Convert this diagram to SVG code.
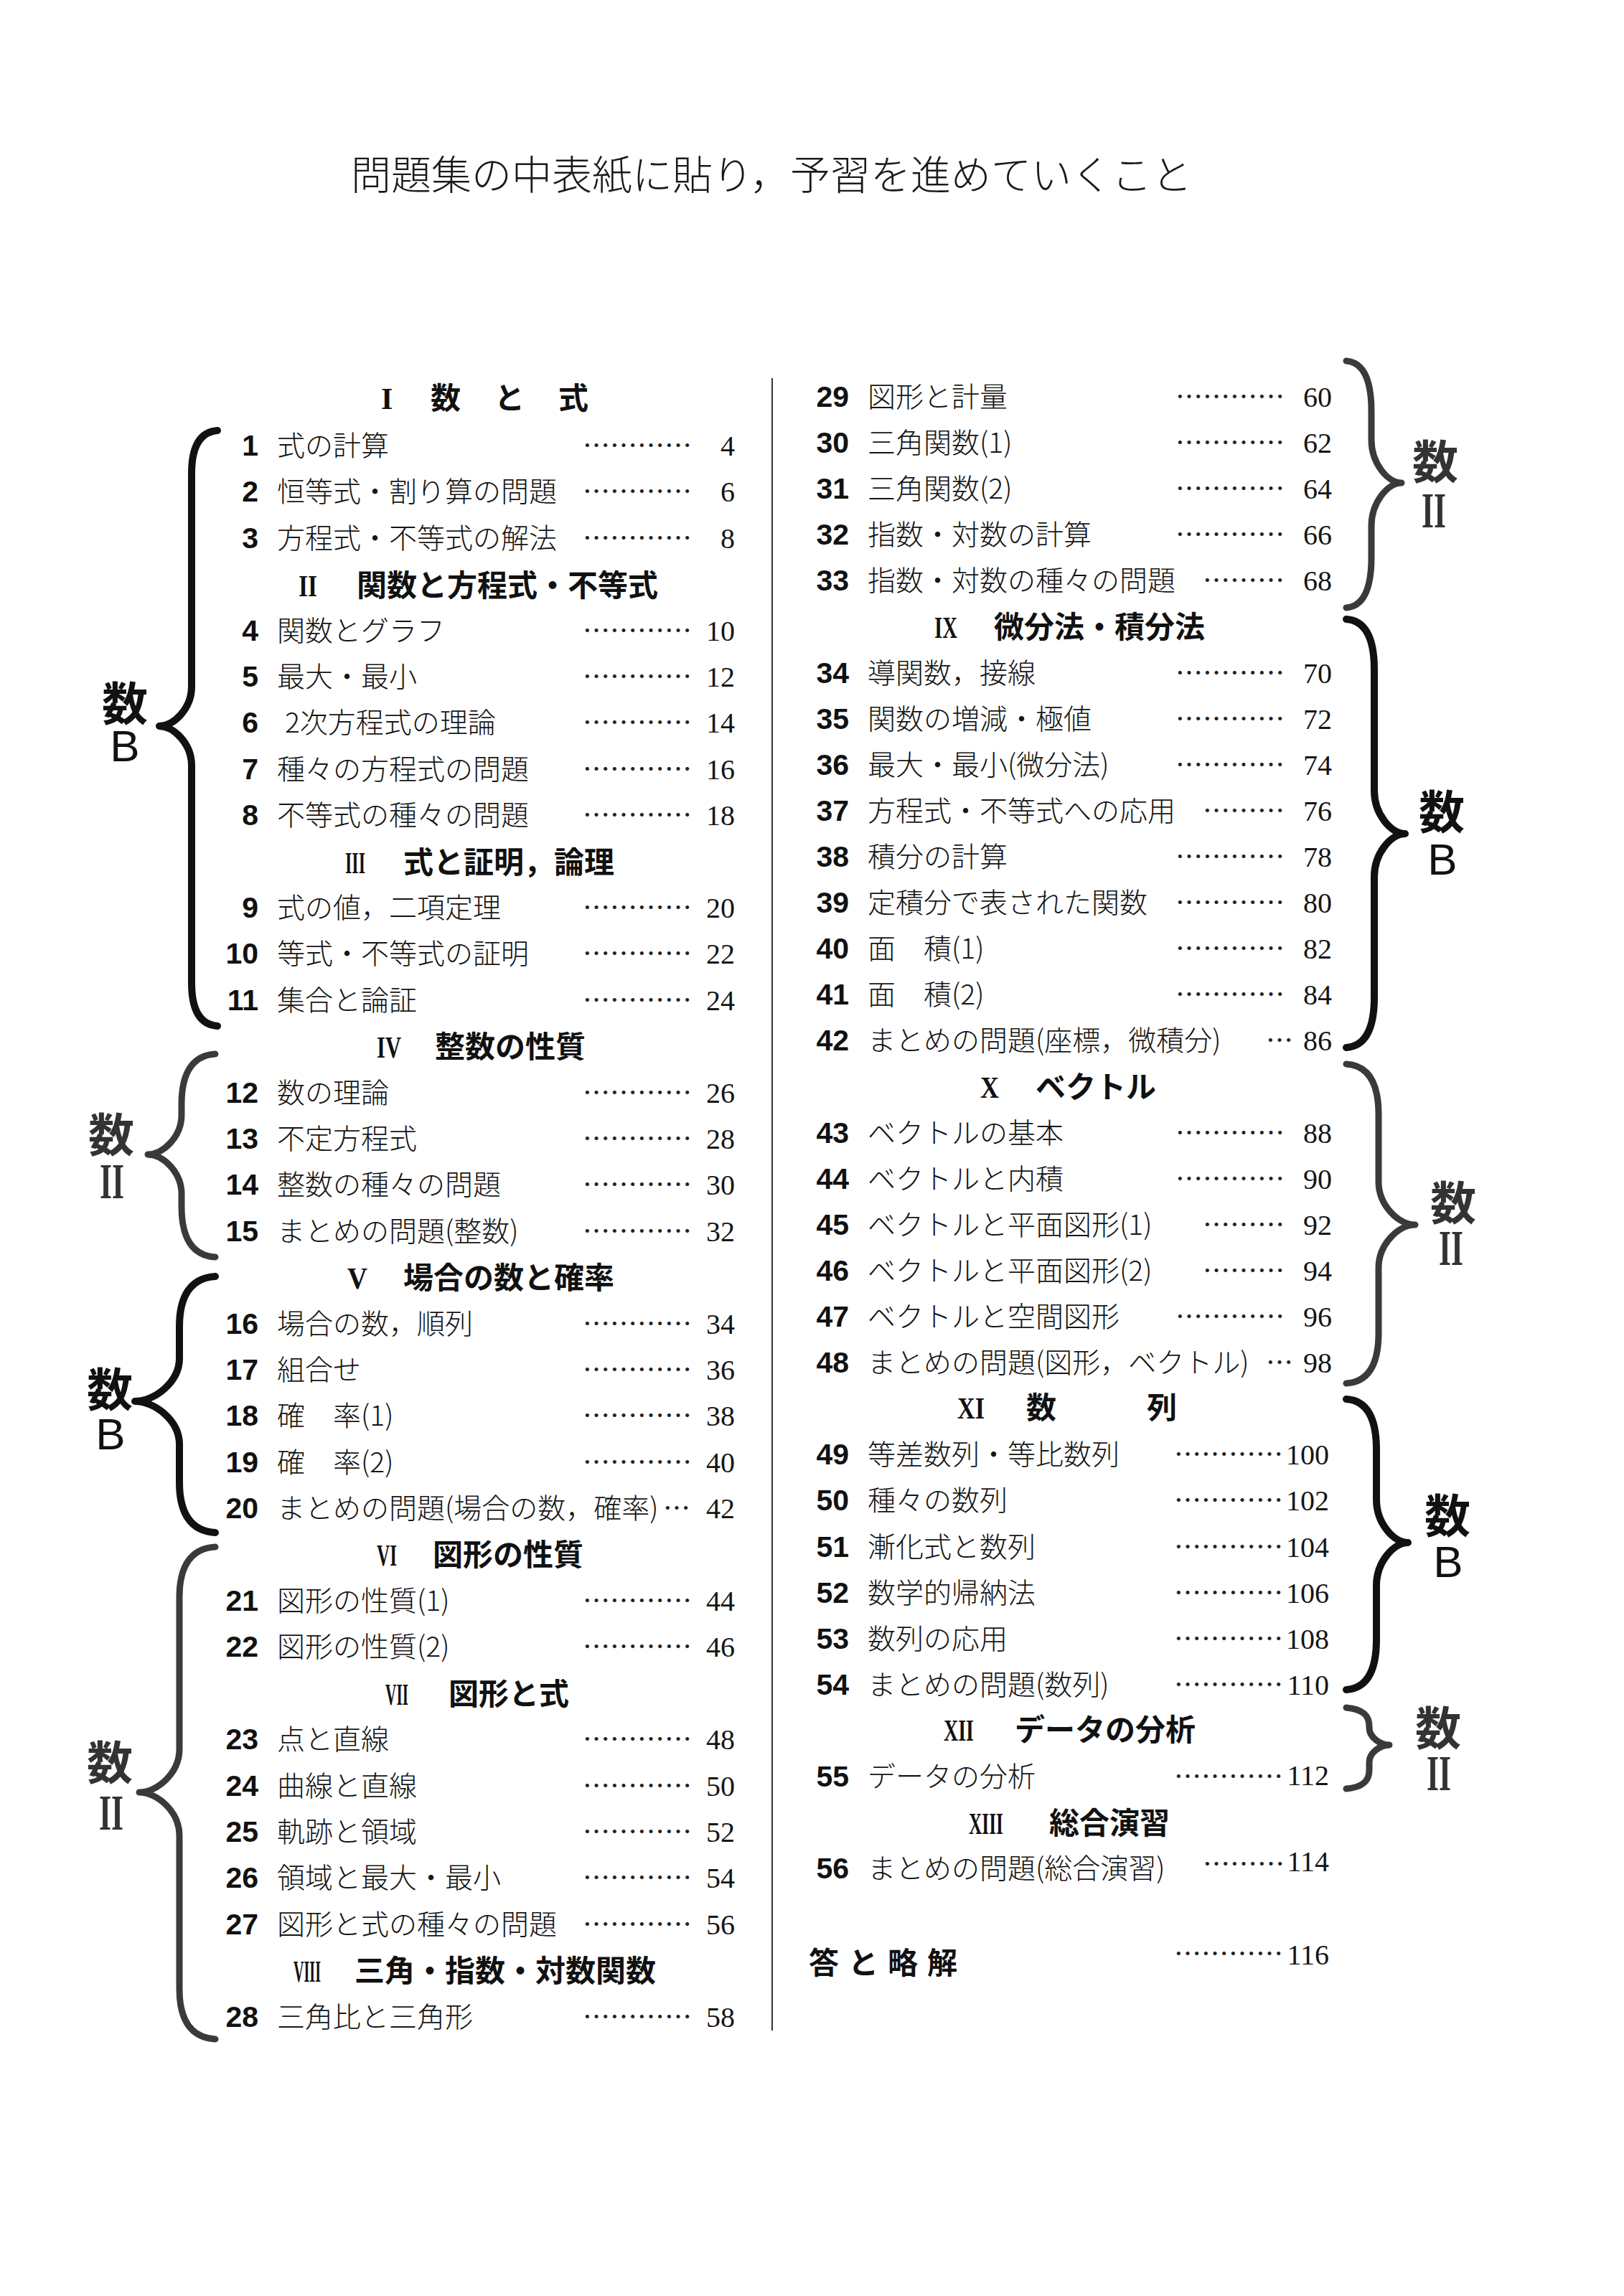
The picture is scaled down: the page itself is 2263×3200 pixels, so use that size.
<svg xmlns="http://www.w3.org/2000/svg" width="2263" height="3200" viewBox="0 0 2263 3200">
<style>
.t{font-family:"Noto Sans CJK JP","Noto Sans CJK SC",sans-serif;font-size:39px;font-weight:300;fill:#151515}
.n{font-family:"Liberation Sans",Arial,sans-serif;font-size:41px;font-weight:bold;fill:#111;text-anchor:end}
.p{font-family:"Liberation Serif","Times New Roman",serif;font-size:40px;fill:#151515;text-anchor:end}
.d{font-family:"Noto Sans CJK JP",sans-serif;font-size:38px;fill:#222}
.h{font-family:"Noto Sans CJK JP","Noto Sans CJK SC",sans-serif;font-size:42px;font-weight:bold;fill:#111}
.r{font-family:"Liberation Serif","Times New Roman",serif;font-size:42px;font-weight:bold;fill:#111}
.lab{text-anchor:middle}
.lk{font-family:"Noto Sans CJK JP",sans-serif;font-size:64px;font-weight:bold}
.lb{font-family:"Liberation Sans",Arial,sans-serif;font-size:62px;font-weight:normal}
.li{font-family:"Liberation Serif","Times New Roman",serif;font-size:70px;font-weight:bold}
.blk{fill:#111}
.gry{fill:#333}
.bb{fill:none;stroke:#111;stroke-width:10;stroke-linecap:round;stroke-linejoin:round}
.bg{fill:none;stroke:#3a3a3a;stroke-width:9;stroke-linecap:round;stroke-linejoin:round}
.title{font-family:"Noto Sans CJK JP",sans-serif;font-size:56px;font-weight:300;fill:#1a1a1a}
</style>
<rect width="2263" height="3200" fill="#ffffff"/>
<text class="title" x="489" y="264">問題集の中表紙に貼り，予習を進めていくこと</text>
<line x1="1076" y1="527" x2="1076" y2="2830" stroke="#333" stroke-width="2"/>

<g id="braces">
<path class="bb" d="M303,600 C277.8,602 267,624 267,660 L267,957 C267,987.25 242.25,1012 222,1012 C242.25,1012 267,1036.75 267,1067 L267,1370 C267,1406 277.8,1428 303,1430"/>
<path class="bg" d="M300,1469 C267.1,1471 253,1497 253,1539 L253,1554 C253,1584.25 227.15,1609 206,1609 C227.15,1609 253,1633.75 253,1664 L253,1682 C253,1724 267.1,1750 300,1752"/>
<path class="bb" d="M300,1779 C265,1781 250,1807 250,1849 L250,1893 C250,1926 215.9,1953 188,1953 C215.9,1953 250,1980 250,2013 L250,2066 C250,2108 265,2134 300,2136"/>
<path class="bg" d="M300,2156 C265,2158 250,2184 250,2226 L250,2438 C250,2471 219.2,2498 194,2498 C219.2,2498 250,2525 250,2558 L250,2772 C250,2814 265,2840 300,2842"/>
<path class="bg" d="M1876,503 C1900.5,505 1911,531 1911,573 L1911,613 C1911,646 1934.1,673 1953,673 C1934.1,673 1911,700 1911,733 L1911,777 C1911,819 1900.5,845 1876,847"/>
<path class="bb" d="M1876,863 C1903.3,865 1915,891 1915,933 L1915,1102 C1915,1135 1938.65,1162 1958,1162 C1938.65,1162 1915,1189 1915,1222 L1915,1390 C1915,1432 1903.3,1458 1876,1460"/>
<path class="bg" d="M1876,1483 C1907.5,1485 1921,1511 1921,1553 L1921,1647 C1921,1680 1949.05,1707 1972,1707 C1949.05,1707 1921,1734 1921,1767 L1921,1858 C1921,1900 1907.5,1926 1876,1928"/>
<path class="bb" d="M1876,1950 C1905.4,1952 1918,1978 1918,2020 L1918,2090 C1918,2123 1942.2,2150 1962,2150 C1942.2,2150 1918,2177 1918,2210 L1918,2285 C1918,2327 1905.4,2353 1876,2355"/>
<path class="bg" d="M1876,2380 C1898.4,2382 1908,2390.4 1908,2406 L1908,2408 C1908,2421.2 1923.4,2432 1936,2432 C1923.4,2432 1908,2442.8 1908,2456 L1908,2467 C1908,2482.6 1898.4,2491 1876,2493"/>
</g>

<g id="labels">
<text class="lab blk"><tspan class="lk" x="174" y="1004">数</tspan><tspan class="lb" x="174" y="1061">B</tspan></text>
<text class="lab gry"><tspan class="lk" x="155" y="1605">数</tspan><tspan class="li" x="156" y="1670" textLength="34" lengthAdjust="spacingAndGlyphs">II</tspan></text>
<text class="lab blk"><tspan class="lk" x="153" y="1960">数</tspan><tspan class="lb" x="154" y="2020">B</tspan></text>
<text class="lab gry"><tspan class="lk" x="153" y="2480">数</tspan><tspan class="li" x="155" y="2550" textLength="34" lengthAdjust="spacingAndGlyphs">II</tspan></text>
<text class="lab gry"><tspan class="lk" x="2000" y="667">数</tspan><tspan class="li" x="1998" y="735" textLength="34" lengthAdjust="spacingAndGlyphs">II</tspan></text>
<text class="lab blk"><tspan class="lk" x="2009" y="1155">数</tspan><tspan class="lb" x="2010" y="1219">B</tspan></text>
<text class="lab gry"><tspan class="lk" x="2025" y="1700">数</tspan><tspan class="li" x="2022" y="1763" textLength="34" lengthAdjust="spacingAndGlyphs">II</tspan></text>
<text class="lab blk"><tspan class="lk" x="2017" y="2136">数</tspan><tspan class="lb" x="2018" y="2198">B</tspan></text>
<text class="lab gry"><tspan class="lk" x="2004" y="2432">数</tspan><tspan class="li" x="2005" y="2495" textLength="34" lengthAdjust="spacingAndGlyphs">II</tspan></text>
</g>

<g id="left-column">
<g id="h1"><text class="r" x="531" y="570">I</text><text class="h" x="600" y="570" letter-spacing="2.5">数　と　式</text></g>
<g id="r1"><text class="n" x="360" y="635">1</text><text class="t" x="386" y="635">式の計算</text><text class="d" x="812" y="635">…………</text><text class="p" x="1024" y="635">4</text></g>
<g id="r2"><text class="n" x="360" y="699">2</text><text class="t" x="386" y="699">恒等式・割り算の問題</text><text class="d" x="812" y="699">…………</text><text class="p" x="1024" y="699">6</text></g>
<g id="r3"><text class="n" x="360" y="764">3</text><text class="t" x="386" y="764">方程式・不等式の解法</text><text class="d" x="812" y="764">…………</text><text class="p" x="1024" y="764">8</text></g>
<g id="h2"><text class="r" x="416" y="831" textLength="26" lengthAdjust="spacingAndGlyphs">II</text><text class="h" x="497" y="831">関数と方程式・不等式</text></g>
<g id="r4"><text class="n" x="360" y="893">4</text><text class="t" x="386" y="893">関数とグラフ</text><text class="d" x="812" y="893">…………</text><text class="p" x="1024" y="893">10</text></g>
<g id="r5"><text class="n" x="360" y="957">5</text><text class="t" x="386" y="957">最大・最小</text><text class="d" x="812" y="957">…………</text><text class="p" x="1024" y="957">12</text></g>
<g id="r6"><text class="n" x="360" y="1021">6</text><text class="t" x="397" y="1021">2次方程式の理論</text><text class="d" x="812" y="1021">…………</text><text class="p" x="1024" y="1021">14</text></g>
<g id="r7"><text class="n" x="360" y="1086">7</text><text class="t" x="386" y="1086">種々の方程式の問題</text><text class="d" x="812" y="1086">…………</text><text class="p" x="1024" y="1086">16</text></g>
<g id="r8"><text class="n" x="360" y="1150">8</text><text class="t" x="386" y="1150">不等式の種々の問題</text><text class="d" x="812" y="1150">…………</text><text class="p" x="1024" y="1150">18</text></g>
<g id="h3"><text class="r" x="481" y="1217" textLength="28" lengthAdjust="spacingAndGlyphs">III</text><text class="h" x="562" y="1217">式と証明，論理</text></g>
<g id="r9"><text class="n" x="360" y="1279">9</text><text class="t" x="386" y="1279">式の値，二項定理</text><text class="d" x="812" y="1279">…………</text><text class="p" x="1024" y="1279">20</text></g>
<g id="r10"><text class="n" x="360" y="1343">10</text><text class="t" x="386" y="1343">等式・不等式の証明</text><text class="d" x="812" y="1343">…………</text><text class="p" x="1024" y="1343">22</text></g>
<g id="r11"><text class="n" x="360" y="1408">11</text><text class="t" x="386" y="1408">集合と論証</text><text class="d" x="812" y="1408">…………</text><text class="p" x="1024" y="1408">24</text></g>
<g id="h4"><text class="r" x="525" y="1474" textLength="34" lengthAdjust="spacingAndGlyphs">IV</text><text class="h" x="606" y="1474">整数の性質</text></g>
<g id="r12"><text class="n" x="360" y="1537">12</text><text class="t" x="386" y="1537">数の理論</text><text class="d" x="812" y="1537">…………</text><text class="p" x="1024" y="1537">26</text></g>
<g id="r13"><text class="n" x="360" y="1601">13</text><text class="t" x="386" y="1601">不定方程式</text><text class="d" x="812" y="1601">…………</text><text class="p" x="1024" y="1601">28</text></g>
<g id="r14"><text class="n" x="360" y="1665">14</text><text class="t" x="386" y="1665">整数の種々の問題</text><text class="d" x="812" y="1665">…………</text><text class="p" x="1024" y="1665">30</text></g>
<g id="r15"><text class="n" x="360" y="1730">15</text><text class="t" x="386" y="1730">まとめの問題(整数)</text><text class="d" x="812" y="1730">…………</text><text class="p" x="1024" y="1730">32</text></g>
<g id="h5"><text class="r" x="484" y="1796" textLength="28" lengthAdjust="spacingAndGlyphs">V</text><text class="h" x="562" y="1796">場合の数と確率</text></g>
<g id="r16"><text class="n" x="360" y="1859">16</text><text class="t" x="386" y="1859">場合の数，順列</text><text class="d" x="812" y="1859">…………</text><text class="p" x="1024" y="1859">34</text></g>
<g id="r17"><text class="n" x="360" y="1923">17</text><text class="t" x="386" y="1923">組合せ</text><text class="d" x="812" y="1923">…………</text><text class="p" x="1024" y="1923">36</text></g>
<g id="r18"><text class="n" x="360" y="1987">18</text><text class="t" x="386" y="1987">確　率(1)</text><text class="d" x="812" y="1987">…………</text><text class="p" x="1024" y="1987">38</text></g>
<g id="r19"><text class="n" x="360" y="2052">19</text><text class="t" x="386" y="2052">確　率(2)</text><text class="d" x="812" y="2052">…………</text><text class="p" x="1024" y="2052">40</text></g>
<g id="r20"><text class="n" x="360" y="2116">20</text><text class="t" x="386" y="2116">まとめの問題(場合の数，確率)</text><text class="d" x="924" y="2116" font-size="34">…</text><text class="p" x="1024" y="2116">42</text></g>
<g id="h6"><text class="r" x="525" y="2182" textLength="28" lengthAdjust="spacingAndGlyphs">VI</text><text class="h" x="603" y="2182">図形の性質</text></g>
<g id="r21"><text class="n" x="360" y="2245">21</text><text class="t" x="386" y="2245">図形の性質(1)</text><text class="d" x="812" y="2245">…………</text><text class="p" x="1024" y="2245">44</text></g>
<g id="r22"><text class="n" x="360" y="2309">22</text><text class="t" x="386" y="2309">図形の性質(2)</text><text class="d" x="812" y="2309">…………</text><text class="p" x="1024" y="2309">46</text></g>
<g id="h7"><text class="r" x="537" y="2376" textLength="32" lengthAdjust="spacingAndGlyphs">VII</text><text class="h" x="625" y="2376">図形と式</text></g>
<g id="r23"><text class="n" x="360" y="2438">23</text><text class="t" x="386" y="2438">点と直線</text><text class="d" x="812" y="2438">…………</text><text class="p" x="1024" y="2438">48</text></g>
<g id="r24"><text class="n" x="360" y="2503">24</text><text class="t" x="386" y="2503">曲線と直線</text><text class="d" x="812" y="2503">…………</text><text class="p" x="1024" y="2503">50</text></g>
<g id="r25"><text class="n" x="360" y="2567">25</text><text class="t" x="386" y="2567">軌跡と領域</text><text class="d" x="812" y="2567">…………</text><text class="p" x="1024" y="2567">52</text></g>
<g id="r26"><text class="n" x="360" y="2631">26</text><text class="t" x="386" y="2631">領域と最大・最小</text><text class="d" x="812" y="2631">…………</text><text class="p" x="1024" y="2631">54</text></g>
<g id="r27"><text class="n" x="360" y="2696">27</text><text class="t" x="386" y="2696">図形と式の種々の問題</text><text class="d" x="812" y="2696">…………</text><text class="p" x="1024" y="2696">56</text></g>
<g id="h8"><text class="r" x="409" y="2762" textLength="38" lengthAdjust="spacingAndGlyphs">VIII</text><text class="h" x="494" y="2762">三角・指数・対数関数</text></g>
<g id="r28"><text class="n" x="360" y="2825">28</text><text class="t" x="386" y="2825">三角比と三角形</text><text class="d" x="812" y="2825">…………</text><text class="p" x="1024" y="2825">58</text></g>
</g>

<g id="right-column">
<g id="r29"><text class="n" x="1183" y="567">29</text><text class="t" x="1209" y="567">図形と計量</text><text class="d" x="1638" y="567">…………</text><text class="p" x="1856" y="567">60</text></g>
<g id="r30"><text class="n" x="1183" y="631">30</text><text class="t" x="1209" y="631">三角関数(1)</text><text class="d" x="1638" y="631">…………</text><text class="p" x="1856" y="631">62</text></g>
<g id="r31"><text class="n" x="1183" y="695">31</text><text class="t" x="1209" y="695">三角関数(2)</text><text class="d" x="1638" y="695">…………</text><text class="p" x="1856" y="695">64</text></g>
<g id="r32"><text class="n" x="1183" y="759">32</text><text class="t" x="1209" y="759">指数・対数の計算</text><text class="d" x="1638" y="759">…………</text><text class="p" x="1856" y="759">66</text></g>
<g id="r33"><text class="n" x="1183" y="823">33</text><text class="t" x="1209" y="823">指数・対数の種々の問題</text><text class="d" x="1676" y="823">………</text><text class="p" x="1856" y="823">68</text></g>
<g id="h9"><text class="r" x="1302" y="889" textLength="32" lengthAdjust="spacingAndGlyphs">IX</text><text class="h" x="1385" y="889">微分法・積分法</text></g>
<g id="r34"><text class="n" x="1183" y="952">34</text><text class="t" x="1209" y="952">導関数，接線</text><text class="d" x="1638" y="952">…………</text><text class="p" x="1856" y="952">70</text></g>
<g id="r35"><text class="n" x="1183" y="1016">35</text><text class="t" x="1209" y="1016">関数の増減・極値</text><text class="d" x="1638" y="1016">…………</text><text class="p" x="1856" y="1016">72</text></g>
<g id="r36"><text class="n" x="1183" y="1080">36</text><text class="t" x="1209" y="1080">最大・最小(微分法)</text><text class="d" x="1638" y="1080">…………</text><text class="p" x="1856" y="1080">74</text></g>
<g id="r37"><text class="n" x="1183" y="1144">37</text><text class="t" x="1209" y="1144">方程式・不等式への応用</text><text class="d" x="1676" y="1144">………</text><text class="p" x="1856" y="1144">76</text></g>
<g id="r38"><text class="n" x="1183" y="1208">38</text><text class="t" x="1209" y="1208">積分の計算</text><text class="d" x="1638" y="1208">…………</text><text class="p" x="1856" y="1208">78</text></g>
<g id="r39"><text class="n" x="1183" y="1272">39</text><text class="t" x="1209" y="1272">定積分で表された関数</text><text class="d" x="1638" y="1272">…………</text><text class="p" x="1856" y="1272">80</text></g>
<g id="r40"><text class="n" x="1183" y="1336">40</text><text class="t" x="1209" y="1336">面　積(1)</text><text class="d" x="1638" y="1336">…………</text><text class="p" x="1856" y="1336">82</text></g>
<g id="r41"><text class="n" x="1183" y="1400">41</text><text class="t" x="1209" y="1400">面　積(2)</text><text class="d" x="1638" y="1400">…………</text><text class="p" x="1856" y="1400">84</text></g>
<g id="r42"><text class="n" x="1183" y="1464">42</text><text class="t" x="1209" y="1464">まとめの問題(座標，微積分)</text><text class="d" x="1764" y="1464" font-size="28">…</text><text class="p" x="1856" y="1464">86</text></g>
<g id="h10"><text class="r" x="1366" y="1530" textLength="26" lengthAdjust="spacingAndGlyphs">X</text><text class="h" x="1443" y="1530">ベクトル</text></g>
<g id="r43"><text class="n" x="1183" y="1593">43</text><text class="t" x="1209" y="1593">ベクトルの基本</text><text class="d" x="1638" y="1593">…………</text><text class="p" x="1856" y="1593">88</text></g>
<g id="r44"><text class="n" x="1183" y="1657">44</text><text class="t" x="1209" y="1657">ベクトルと内積</text><text class="d" x="1638" y="1657">…………</text><text class="p" x="1856" y="1657">90</text></g>
<g id="r45"><text class="n" x="1183" y="1721">45</text><text class="t" x="1209" y="1721">ベクトルと平面図形(1)</text><text class="d" x="1676" y="1721">………</text><text class="p" x="1856" y="1721">92</text></g>
<g id="r46"><text class="n" x="1183" y="1785">46</text><text class="t" x="1209" y="1785">ベクトルと平面図形(2)</text><text class="d" x="1676" y="1785">………</text><text class="p" x="1856" y="1785">94</text></g>
<g id="r47"><text class="n" x="1183" y="1849">47</text><text class="t" x="1209" y="1849">ベクトルと空間図形</text><text class="d" x="1638" y="1849">…………</text><text class="p" x="1856" y="1849">96</text></g>
<g id="r48"><text class="n" x="1183" y="1913">48</text><text class="t" x="1209" y="1913">まとめの問題(図形，ベクトル)</text><text class="d" x="1764" y="1913" font-size="28">…</text><text class="p" x="1856" y="1913">98</text></g>
<g id="h11"><text class="r" x="1334" y="1977" textLength="38" lengthAdjust="spacingAndGlyphs">XI</text><text class="h" x="1430" y="1977">数　　　列</text></g>
<g id="r49"><text class="n" x="1183" y="2041">49</text><text class="t" x="1209" y="2041">等差数列・等比数列</text><text class="d" x="1636" y="2041">…………</text><text class="p" x="1852" y="2041">100</text></g>
<g id="r50"><text class="n" x="1183" y="2105">50</text><text class="t" x="1209" y="2105">種々の数列</text><text class="d" x="1636" y="2105">…………</text><text class="p" x="1852" y="2105">102</text></g>
<g id="r51"><text class="n" x="1183" y="2170">51</text><text class="t" x="1209" y="2170">漸化式と数列</text><text class="d" x="1636" y="2170">…………</text><text class="p" x="1852" y="2170">104</text></g>
<g id="r52"><text class="n" x="1183" y="2234">52</text><text class="t" x="1209" y="2234">数学的帰納法</text><text class="d" x="1636" y="2234">…………</text><text class="p" x="1852" y="2234">106</text></g>
<g id="r53"><text class="n" x="1183" y="2298">53</text><text class="t" x="1209" y="2298">数列の応用</text><text class="d" x="1636" y="2298">…………</text><text class="p" x="1852" y="2298">108</text></g>
<g id="r54"><text class="n" x="1183" y="2362">54</text><text class="t" x="1209" y="2362">まとめの問題(数列)</text><text class="d" x="1636" y="2362">…………</text><text class="p" x="1852" y="2362">110</text></g>
<g id="h12"><text class="r" x="1315" y="2426" textLength="42" lengthAdjust="spacingAndGlyphs">XII</text><text class="h" x="1414" y="2426">データの分析</text></g>
<g id="r55"><text class="n" x="1183" y="2490">55</text><text class="t" x="1209" y="2490">データの分析</text><text class="d" x="1636" y="2490">…………</text><text class="p" x="1852" y="2488">112</text></g>
<g id="h13"><text class="r" x="1350" y="2556" textLength="48" lengthAdjust="spacingAndGlyphs">XIII</text><text class="h" x="1462" y="2556">総合演習</text></g>
<g id="r56"><text class="n" x="1183" y="2618">56</text><text class="t" x="1209" y="2618">まとめの問題(総合演習)</text><text class="d" x="1676" y="2612">………</text><text class="p" x="1852" y="2608">114</text></g>
<g id="answers"><text class="h" x="1127" y="2751" font-size="40" font-weight="500" letter-spacing="13">答と略解</text><text class="d" x="1636" y="2737">…………</text><text class="p" x="1852" y="2738">116</text></g>
</g>
</svg>
